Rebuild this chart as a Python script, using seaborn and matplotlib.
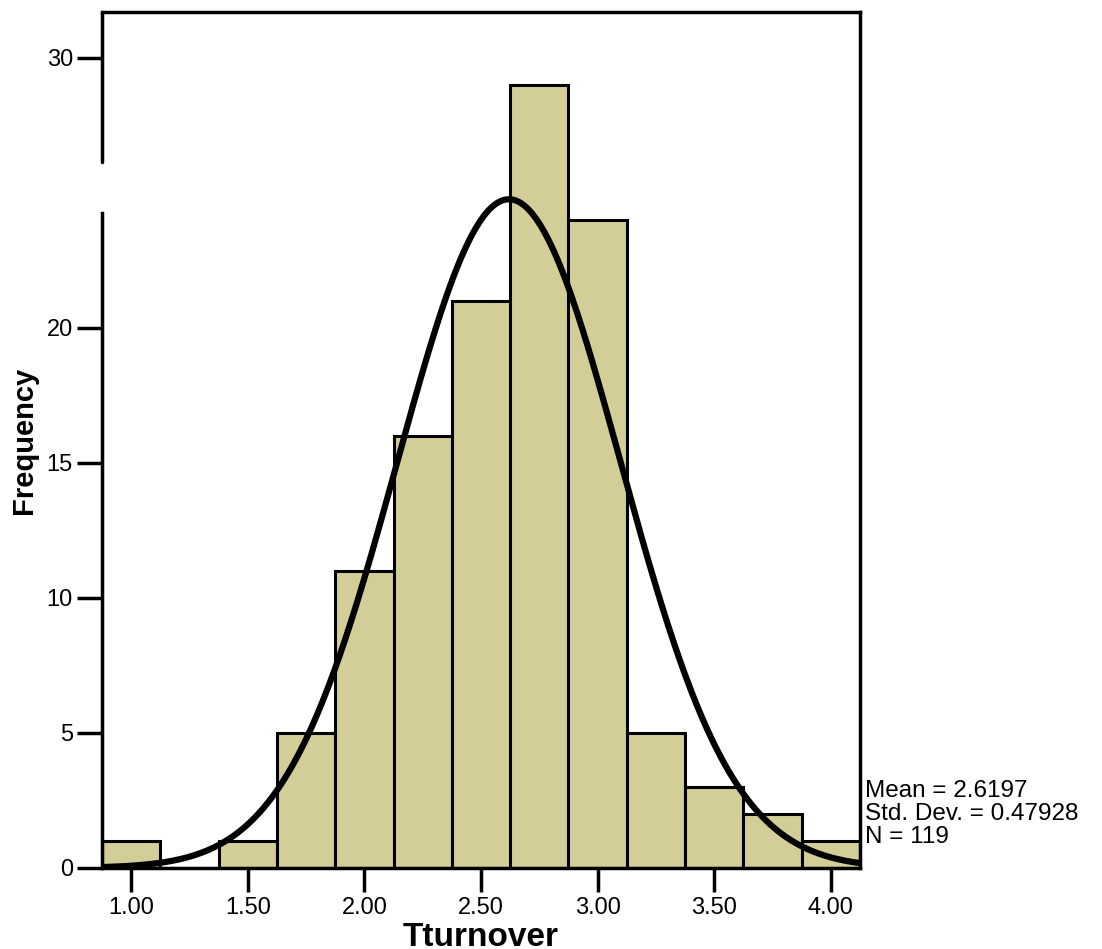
import numpy as np
import pandas as pd
import matplotlib
matplotlib.use("Agg")
import matplotlib.pyplot as plt
import seaborn as sns

# histogram bins (width 0.25) and counts
bin_edges = [0.875, 1.125, 1.375, 1.625, 1.875, 2.125, 2.375, 2.625, 2.875,
             3.125, 3.375, 3.625, 3.875, 4.125]
counts = [1, 0, 1, 5, 11, 16, 21, 29, 24, 5, 3, 2, 1]
mean_val = 2.6197
sd_val = 0.47928
n_obs = 119
x_ticks = [1.0, 1.5, 2.0, 2.5, 3.0, 3.5, 4.0]
y_ticks = [0, 5, 10, 15, 20, 30]

sns.set_style("white")
plt.rcParams["font.family"] = ["Liberation Sans", "DejaVu Sans"]

centers = [(a + b) / 2 for a, b in zip(bin_edges[:-1], bin_edges[1:])]
df = pd.DataFrame({"Tturnover": centers, "count": counts})

fig = plt.figure(figsize=(11.02, 9.49), dpi=100)
ax = fig.add_axes([0.0926, 0.0854, 0.6878, 0.902])

sns.histplot(data=df, x="Tturnover", weights="count", bins=bin_edges,
             color="#D3CE98", alpha=1, edgecolor="black", linewidth=2.2, ax=ax)

# fitted normal curve scaled to counts
xs = np.linspace(bin_edges[0], bin_edges[-1], 400)
bw = bin_edges[1] - bin_edges[0]
ys = n_obs * bw / (sd_val * np.sqrt(2 * np.pi)) * np.exp(-0.5 * ((xs - mean_val) / sd_val) ** 2)
sns.lineplot(x=xs, y=ys, color="black", linewidth=4.5, ax=ax)

ax.set_xlim(bin_edges[0], bin_edges[-1])
ax.set_ylim(0, 31.7)
ax.set_xticks(x_ticks)
ax.set_xticklabels([f"{t:.2f}" for t in x_ticks])
ax.set_yticks(y_ticks)
ax.tick_params(axis="both", direction="out", length=18, width=2.5,
               labelsize=17, left=True, bottom=True, pad=3,
               colors="black", labelcolor="black")
ax.tick_params(axis="x", length=17, pad=4)

for s in ax.spines.values():
    s.set_linewidth(2.5)
    s.set_color("black")
# broken left axis
ax.spines["left"].set_bounds(0, 24.26)
ax.axvline(bin_edges[0], ymin=26.15 / 31.7, ymax=1, color="black",
           linewidth=2.5, clip_on=False)

ax.set_xlabel("Tturnover", fontsize=24, fontweight="bold", labelpad=2,
              color="black")
ax.set_ylabel("Frequency", fontsize=21, fontweight="bold", labelpad=6,
              color="black")

ax.text(1.007, 0.063, f"Mean = {mean_val}\nStd. Dev. = {sd_val}\nN = {n_obs}",
        transform=ax.transAxes, ha="left", va="center", fontsize=17.5,
        linespacing=1.05, color="black")

fig.savefig("out.png", dpi=100)
plt.close()
